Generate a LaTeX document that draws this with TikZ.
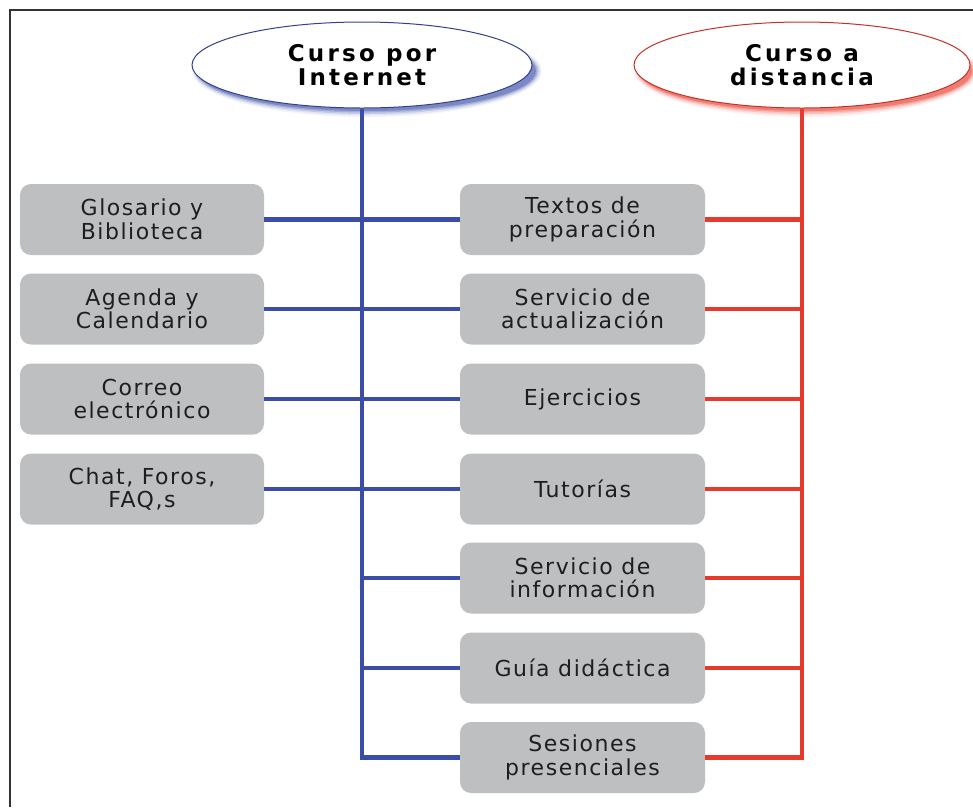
\documentclass[tikz,border=0pt]{standalone}
\usepackage{fontspec}
\usetikzlibrary{shapes.geometric}
\newfontfamily\boxfont[LetterSpace=7]{DejaVu Sans}
\newfontfamily\headfont[LetterSpace=14]{DejaVu Sans Bold}
\definecolor{trunkblue}{HTML}{3B4DA6}
\definecolor{trunkred}{HTML}{E83A2C}
\definecolor{boxgray}{HTML}{BEBFC1}
\definecolor{boxtext}{HTML}{1E1E1E}
\definecolor{framegray}{HTML}{333333}
\tikzset{
  item/.style={rectangle, rounded corners=11pt, fill=boxgray, text=boxtext,
    minimum height=71pt, inner sep=0pt, align=center,
    font=\boxfont\fontsize{22}{23.5}\selectfont},
  leftitem/.style={item, minimum width=244pt},
  miditem/.style={item, minimum width=245pt},
  head/.style={ellipse, fill=white, minimum width=#1, minimum height=86pt,
    inner sep=0pt, align=center, font=\headfont\fontsize{23}{24}\selectfont},
  blueline/.style={draw=trunkblue, line width=4.5pt},
  redline/.style={draw=trunkred, line width=4.5pt},
}
\begin{document}
\begin{tikzpicture}[x=1pt, y=-1pt]
  \useasboundingbox (0,0) rectangle (973,807);
  % outer frame (open to the right and bottom)
  \draw[framegray, line width=2pt] (10,807) -- (10,10) -- (973,10);

  % soft coloured shadows under the two headings
  \foreach \k/\o in {0/0.06, 1.5/0.10, 3/0.16, 4.5/0.25, 6/0.38} {
    \fill[trunkblue, opacity=\o] (367,71) ellipse ({175-\k} and {46-\k});
    \fill[trunkred, opacity=\o] (806,71) ellipse ({172-\k} and {46-\k});
  }
  \node[head=340pt, draw=trunkblue!85!black, line width=1pt] (pi) at (362,65)
    {Curso por\\Internet};
  \node[head=336pt, draw=trunkred!85!black, line width=1pt] (pd) at (802,65)
    {Curso a\\distancia};

  % left column
  \node[leftitem] (l1) at (142,219.5) {Glosario y\\Biblioteca};
  \node[leftitem] (l2) at (142,309) {Agenda y\\Calendario};
  \node[leftitem] (l3) at (142,399) {Correo\\electrónico};
  \node[leftitem] (l4) at (142,489) {Chat, Foros,\\FAQ,s};

  % middle column
  \node[miditem] (m1) at (582.5,219.5) {Textos de\\preparación};
  \node[miditem] (m2) at (582.5,309) {Servicio de\\actualización};
  \node[miditem] (m3) at (582.5,399) {Ejercicios};
  \node[miditem] (m4) at (582.5,489) {Tutorías};
  \node[miditem] (m5) at (582.5,578) {Servicio de\\información};
  \node[miditem] (m6) at (582.5,668) {Guía didáctica};
  \node[miditem] (m7) at (582.5,757.5) {Sesiones\\presenciales};

  % blue trunk and branches
  \draw[blueline] (pi.south) |- (m7.west);
  \foreach \i in {1,2,3,4} \draw[blueline] (l\i.east) -- (m\i.west);
  \foreach \i in {5,6} \draw[blueline] (m\i.west -| pi.south) -- (m\i.west);

  % red trunk and branches
  \draw[redline] (pd.south) |- (m7.east);
  \foreach \i in {1,2,3,4,5,6} \draw[redline] (m\i.east) -- (m\i.east -| pd.south);
\end{tikzpicture}
\end{document}
